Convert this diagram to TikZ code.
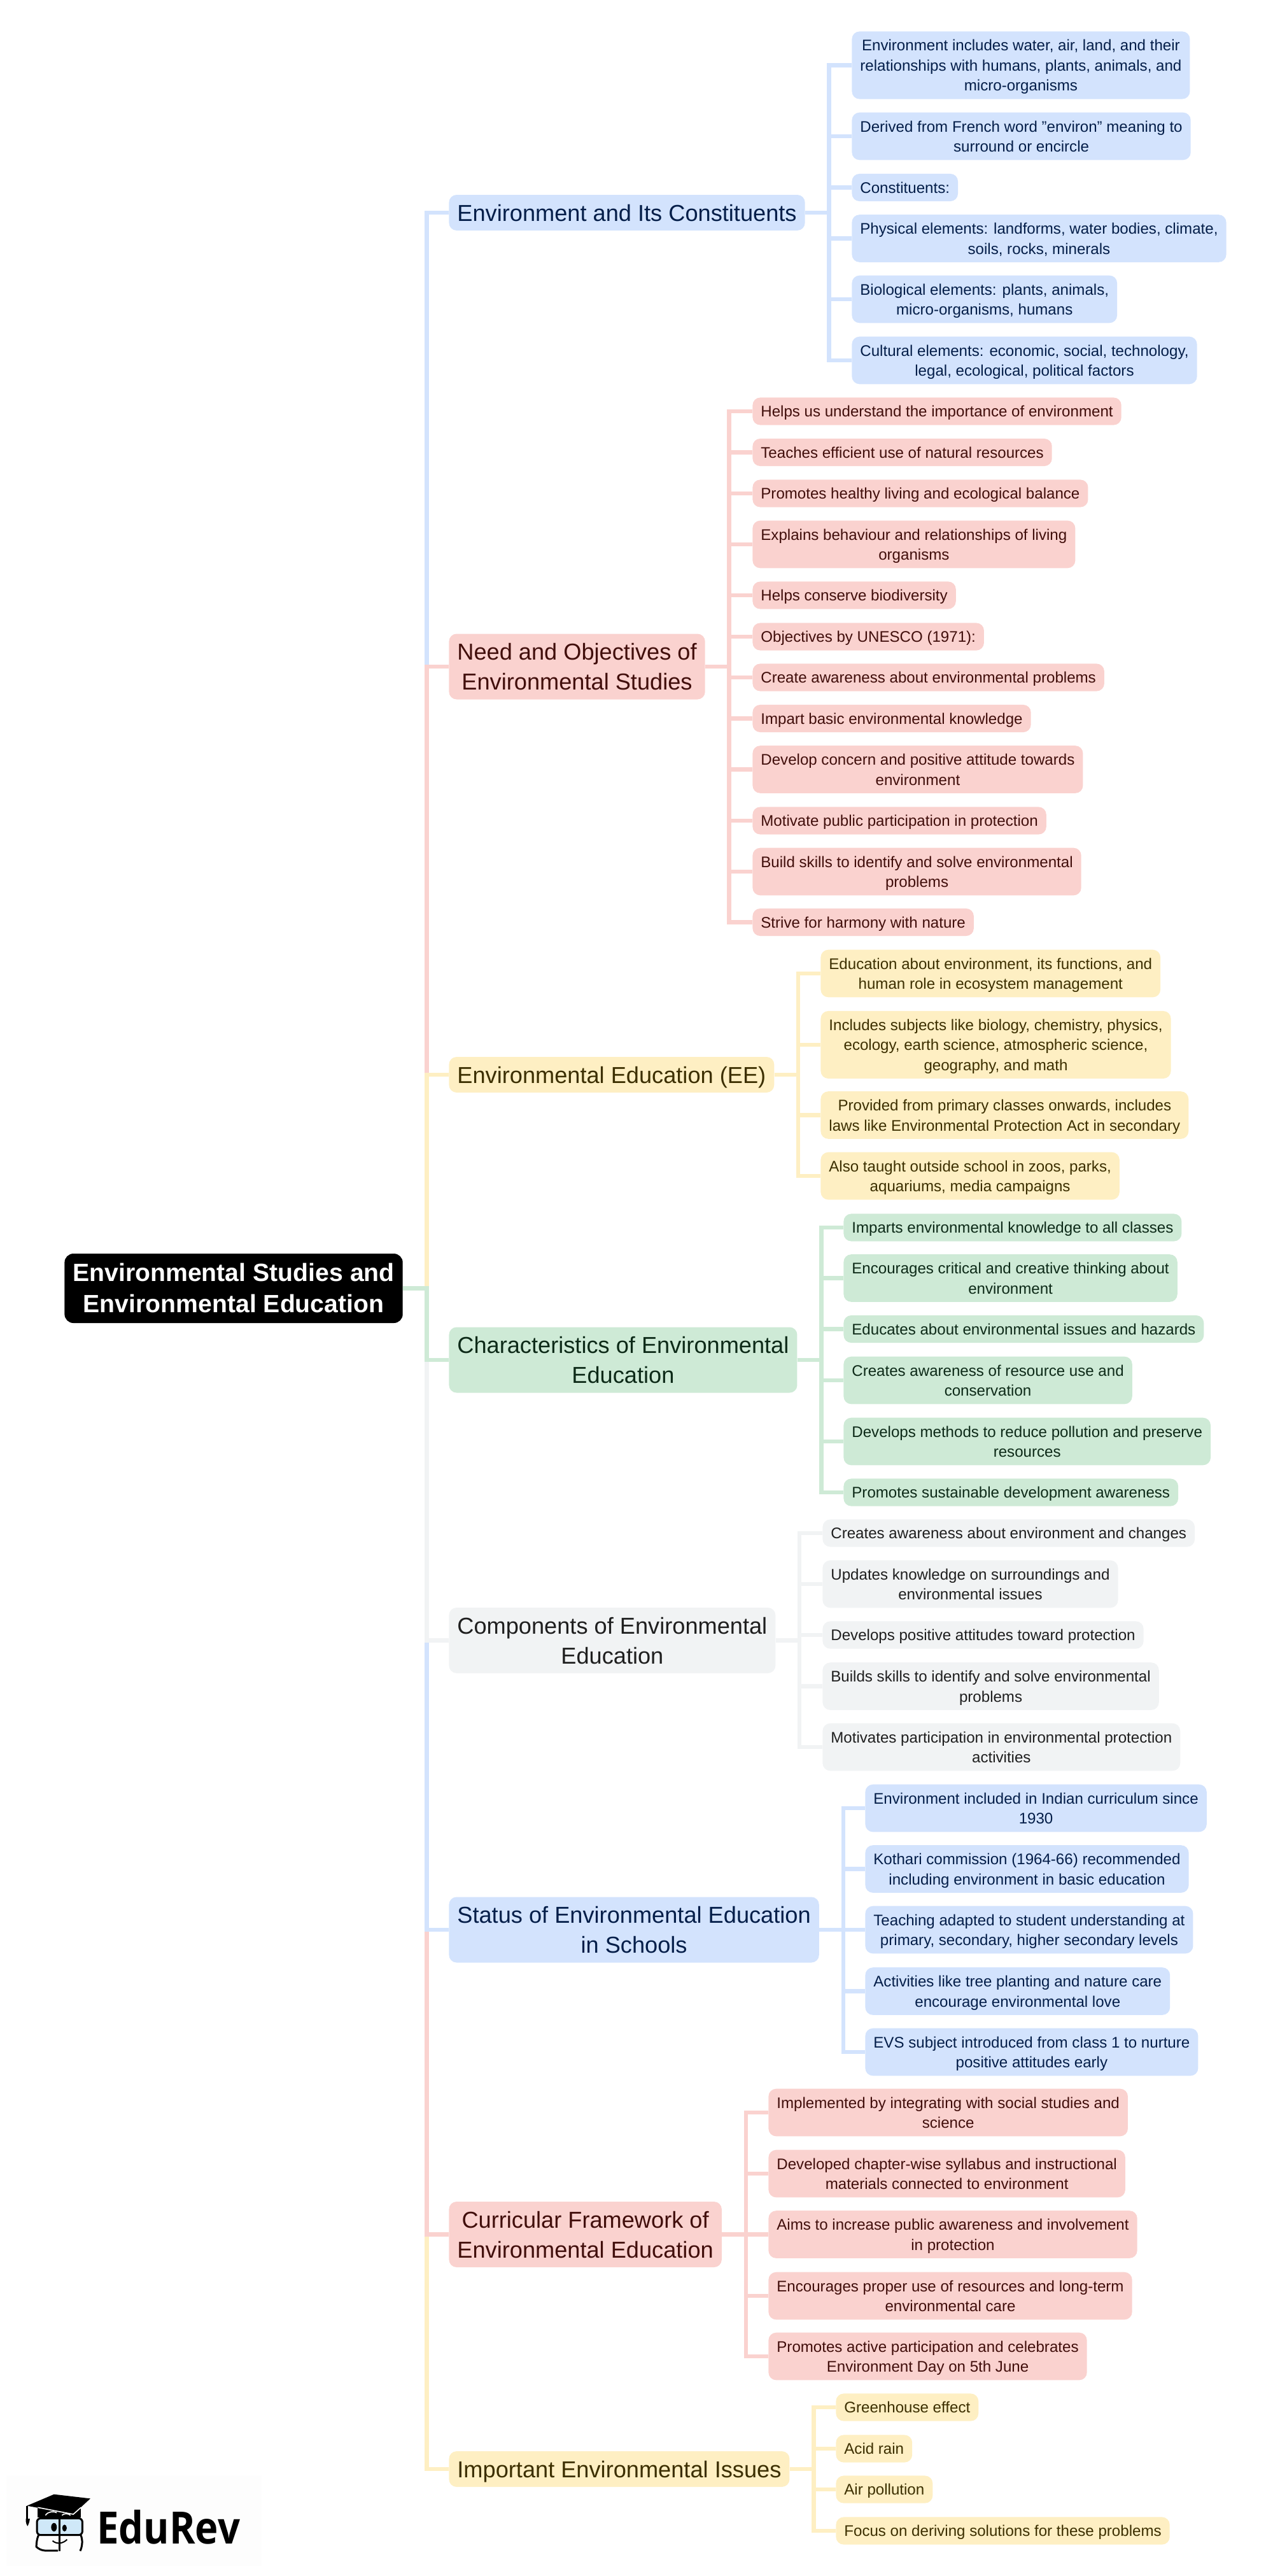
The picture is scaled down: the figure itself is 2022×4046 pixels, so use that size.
\documentclass[tikz,border=0pt]{standalone}
\usepackage{fontspec}
\setmainfont{Liberation Sans}
\newfontfamily\logofont{Open Sans}
\usetikzlibrary{positioning}

\definecolor{mapblue}{HTML}{D3E3FD}
\definecolor{mapred}{HTML}{FAD2CF}
\definecolor{mapyellow}{HTML}{FEEFC3}
\definecolor{mapgreen}{HTML}{CEEAD6}
\definecolor{mapgrey}{HTML}{F1F3F4}
\definecolor{inkblue}{HTML}{041E49}
\definecolor{inkred}{HTML}{410E0B}
\definecolor{inkyellow}{HTML}{3C2F00}
\definecolor{inkgreen}{HTML}{0D2A18}
\definecolor{inkgrey}{HTML}{1F1F1F}
\definecolor{lensblue}{HTML}{CFE8F8}

\begin{document}
\begin{tikzpicture}[x=0.5pt, y=-0.5pt,
    box/.style={rounded corners=6pt, align=center, anchor=west},
    leaf/.style={box, inner xsep=6.5pt, inner ysep=2.9pt, font=\fontsize{12.05}{15.75}\selectfont,
      text height=12.29pt, text depth=3.47pt},
    leaftwo/.style={leaf, text height=28.04pt},
    leafthree/.style={leaf, text height=43.79pt},
    branch/.style={box, inner xsep=6.5pt, inner ysep=2.25pt, font=\fontsize{18.1}{23.5}\selectfont,
      text height=18.33pt, text depth=5.17pt},
    branchtwo/.style={branch, text height=41.83pt},
    rootbox/.style={box, rounded corners=7pt, inner xsep=6.5pt, inner ysep=2.75pt, fill=black, text=white,
      font=\fontsize{19.6}{24.5}\selectfont\bfseries, text height=43.61pt, text depth=5.39pt},
    blue/.style={fill=mapblue, text=inkblue},
    red/.style={fill=mapred, text=inkred},
    yellow/.style={fill=mapyellow, text=inkyellow},
    green/.style={fill=mapgreen, text=inkgreen},
    grey/.style={fill=mapgrey, text=inkgrey},
    elbow/.style={line width=3.2pt, to path={-- ++(37.5,0) |- (\tikztotarget)}}]
  \useasboundingbox (0,0) rectangle (2022,4046);

  \node[rootbox] (root) at (101,2023.5) {Environmental Studies and\\Environmental Education};

  \node[branch,blue] (env) at (705,334) {Environment and Its Constituents};
  \node[leafthree,blue] (enva) at (1338,102.5) {Environment includes water, air, land, and their\\relationships with humans, plants, animals, and\\micro-organisms};
  \node[leaftwo,blue] (envb) at (1338,214) {Derived from French word "environ" meaning to\\surround or encircle};
  \node[leaf,blue] (envc) at (1338,294.5) {Constituents:};
  \node[leaftwo,blue] (envd) at (1338,374.5) {Physical elements: landforms, water bodies, climate,\\soils, rocks, minerals};
  \node[leaftwo,blue] (enve) at (1338,470) {Biological elements: plants, animals,\\micro-organisms, humans};
  \node[leaftwo,blue] (envf) at (1338,566) {Cultural elements: economic, social, technology,\\legal, ecological, political factors};

  \node[branchtwo,red] (need) at (705,1047) {Need and Objectives of\\Environmental Studies};
  \node[leaf,red] (needa) at (1182,646) {Helps us understand the importance of environment};
  \node[leaf,red] (needb) at (1182,710.5) {Teaches efficient use of natural resources};
  \node[leaf,red] (needc) at (1182,775) {Promotes healthy living and ecological balance};
  \node[leaftwo,red] (needd) at (1182,855) {Explains behaviour and relationships of living\\organisms};
  \node[leaf,red] (neede) at (1182,935) {Helps conserve biodiversity};
  \node[leaf,red] (needf) at (1182,1000) {Objectives by UNESCO (1971):};
  \node[leaf,red] (needg) at (1182,1064) {Create awareness about environmental problems};
  \node[leaf,red] (needh) at (1182,1128.5) {Impart basic environmental knowledge};
  \node[leaftwo,red] (needi) at (1182,1208.5) {Develop concern and positive attitude towards\\environment};
  \node[leaf,red] (needj) at (1182,1289) {Motivate public participation in protection};
  \node[leaftwo,red] (needk) at (1182,1369) {Build skills to identify and solve environmental\\problems};
  \node[leaf,red] (needl) at (1182,1448.5) {Strive for harmony with nature};

  \node[branch,yellow] (edu) at (705,1688) {Environmental Education (EE)};
  \node[leaftwo,yellow] (edua) at (1289,1529) {Education about environment, its functions, and\\human role in ecosystem management};
  \node[leafthree,yellow] (edub) at (1289,1641) {Includes subjects like biology, chemistry, physics,\\ecology, earth science, atmospheric science,\\geography, and math};
  \node[leaftwo,yellow] (educ) at (1289,1751.5) {Provided from primary classes onwards, includes\\laws like Environmental Protection Act in secondary};
  \node[leaftwo,yellow] (edud) at (1289,1847) {Also taught outside school in zoos, parks,\\aquariums, media campaigns};

  \node[branchtwo,green] (chr) at (705,2136) {Characteristics of Environmental\\Education};
  \node[leaf,green] (chra) at (1325,1928) {Imparts environmental knowledge to all classes};
  \node[leaftwo,green] (chrb) at (1325,2007.5) {Encourages critical and creative thinking about\\environment};
  \node[leaf,green] (chrc) at (1325,2087.5) {Educates about environmental issues and hazards};
  \node[leaftwo,green] (chrd) at (1325,2168) {Creates awareness of resource use and\\conservation};
  \node[leaftwo,green] (chre) at (1325,2264) {Develops methods to reduce pollution and preserve\\resources};
  \node[leaf,green] (chrf) at (1325,2344) {Promotes sustainable development awareness};

  \node[branchtwo,grey] (comp) at (705,2576.5) {Components of Environmental\\Education};
  \node[leaf,grey] (compa) at (1292,2408) {Creates awareness about environment and changes};
  \node[leaftwo,grey] (compb) at (1292,2488) {Updates knowledge on surroundings and\\environmental issues};
  \node[leaf,grey] (compc) at (1292,2568) {Develops positive attitudes toward protection};
  \node[leaftwo,grey] (compd) at (1292,2648.5) {Builds skills to identify and solve environmental\\problems};
  \node[leaftwo,grey] (compe) at (1292,2744) {Motivates participation in environmental protection\\activities};

  \node[branchtwo,blue] (stat) at (705,3031) {Status of Environmental Education\\in Schools};
  \node[leaftwo,blue] (stata) at (1359,2840) {Environment included in Indian curriculum since\\1930};
  \node[leaftwo,blue] (statb) at (1359,2935.5) {Kothari commission (1964-66) recommended\\including environment in basic education};
  \node[leaftwo,blue] (statc) at (1359,3031) {Teaching adapted to student understanding at\\primary, secondary, higher secondary levels};
  \node[leaftwo,blue] (statd) at (1359,3127.5) {Activities like tree planting and nature care\\encourage environmental love};
  \node[leaftwo,blue] (state) at (1359,3223) {EVS subject introduced from class 1 to nurture\\positive attitudes early};

  \node[branchtwo,red] (cur) at (705,3509.5) {Curricular Framework of\\Environmental Education};
  \node[leaftwo,red] (cura) at (1207,3318) {Implemented by integrating with social studies and\\science};
  \node[leaftwo,red] (curb) at (1207,3414) {Developed chapter-wise syllabus and instructional\\materials connected to environment};
  \node[leaftwo,red] (curc) at (1207,3509.5) {Aims to increase public awareness and involvement\\in protection};
  \node[leaftwo,red] (curd) at (1207,3606) {Encourages proper use of resources and long-term\\environmental care};
  \node[leaftwo,red] (cure) at (1207,3701) {Promotes active participation and celebrates\\Environment Day on 5th June};

  \node[branch,yellow] (iss) at (705,3878) {Important Environmental Issues};
  \node[leaf,yellow] (issa) at (1313,3781) {Greenhouse effect};
  \node[leaf,yellow] (issb) at (1313,3846) {Acid rain};
  \node[leaf,yellow] (issc) at (1313,3910) {Air pollution};
  \node[leaf,yellow] (issd) at (1313,3975) {Focus on deriving solutions for these problems};

  \draw[elbow,mapblue] (root.east) to (env.west);
  \draw[elbow,mapred] (root.east) to (need.west);
  \draw[elbow,mapyellow] (root.east) to (edu.west);
  \draw[elbow,mapyellow] (root.east) to (iss.west);
  \draw[elbow,mapred] (root.east) to (cur.west);
  \draw[elbow,mapblue] (root.east) to (stat.west);
  \draw[elbow,mapgrey] (root.east) to (comp.west);
  \draw[elbow,mapgreen] (root.east) to (chr.west);

  \foreach \kid in {enva,envb,envc,envd,enve,envf}
    \draw[elbow,mapblue] (env.east) to (\kid.west);
  \foreach \kid in {needa,needb,needc,needd,neede,needf,needg,needh,needi,needj,needk,needl}
    \draw[elbow,mapred] (need.east) to (\kid.west);
  \foreach \kid in {edua,edub,educ,edud}
    \draw[elbow,mapyellow] (edu.east) to (\kid.west);
  \foreach \kid in {chra,chrb,chrc,chrd,chre,chrf}
    \draw[elbow,mapgreen] (chr.east) to (\kid.west);
  \foreach \kid in {compa,compb,compc,compd,compe}
    \draw[elbow,mapgrey] (comp.east) to (\kid.west);
  \foreach \kid in {stata,statb,statc,statd,state}
    \draw[elbow,mapblue] (stat.east) to (\kid.west);
  \foreach \kid in {cura,curb,curc,curd,cure}
    \draw[elbow,mapred] (cur.east) to (\kid.west);
  \foreach \kid in {issa,issb,issc,issd}
    \draw[elbow,mapyellow] (iss.east) to (\kid.west);

  \fill[black!0.7] (10,3888) rectangle (411,4030);
  \node[font=\logofont\bfseries\fontsize{35}{35}\selectfont, anchor=base west, inner sep=0pt, transform shape, xscale=.88] (brand) at (152,3995) {EduRev};
  \begin{scope}[shift={(0,3800)}, xscale=.4464, yscale=.3333]
    \fill (133,415) -- (133,462) -- (285,462) -- (285,415) -- cycle;
    \fill (95,407) -- (190,353) -- (318,373) -- (258,447) -- cycle;
    \draw[white, line width=.8pt] (133,415) -- (258,447) -- (285,415);
    \draw[white, line width=.8pt] (160,452) .. controls (170,432) and (190,432) .. (200,440);
    \draw[white, line width=.8pt] (218,452) .. controls (225,442) and (240,442) .. (248,452);
    \draw[line width=1.2pt] (95,407) -- (95,470);
    \fill (91,468) -- (105,468) .. controls (104,485) and (100,495) .. (97,503) .. controls (93,495) and (90,485) .. (91,468) -- cycle;
    \draw[line width=1.5pt, fill=lensblue, rounded corners=3pt] (130,466) rectangle (290,545);
    \draw[line width=1.5pt, rounded corners=4pt] (204,618) -- (140,618) .. controls (128,600) and (128,565) .. (136,545);
    \draw[line width=1.5pt] (284,545) .. controls (292,565) and (290,600) .. (282,620);
    \draw[line width=1.5pt] (210,462) -- (210,620);
    \fill (190,508) ellipse [x radius=10, y radius=20];
    \fill (227,512) ellipse [x radius=8, y radius=16];
    \draw[line width=1pt] (185,572) .. controls (200,590) and (222,585) .. (236,566);
  \end{scope}
\end{tikzpicture}
\end{document}
